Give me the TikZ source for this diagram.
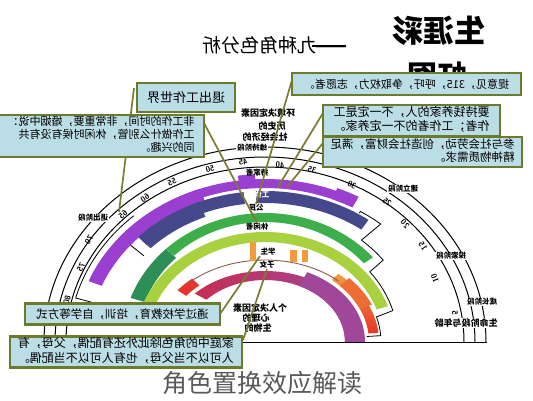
\documentclass[tikz,border=0pt]{standalone}
\usepackage{fontspec}
\usepackage{graphicx}
\newfontfamily\cjk{Noto Sans CJK SC}
\usetikzlibrary{calc}
\definecolor{boxfill}{HTML}{BBDDE6}
\definecolor{boxline}{HTML}{6B7B2C}
\definecolor{connc}{HTML}{7D7B32}
\definecolor{cP}{HTML}{9A3FD0}
\definecolor{cN}{HTML}{46488C}
\definecolor{cG}{HTML}{3DAE4A}
\definecolor{cDG}{HTML}{2E8E58}
\definecolor{cLG}{HTML}{A9D13F}
\definecolor{cO}{HTML}{F29B3D}
\definecolor{cR}{HTML}{E8352B}
\definecolor{cCh}{HTML}{A0479A}
\definecolor{cChL}{HTML}{C42E55}
\definecolor{cBr}{HTML}{8E5B4E}
\newcommand{\mir}[1]{\reflectbox{#1}}
\newcommand{\mirl}[1]{\reflectbox{\begin{tabular}{@{}l@{}}#1\end{tabular}}}
\newcommand{\band}[7]{\path[#7] (#1:#5 and #6) arc[start angle=#1,end angle=#2,x radius=#5,y radius=#6] -- (#2:#3 and #4) arc[start angle=#2,end angle=#1,x radius=#3,y radius=#4] -- cycle;}
\begin{document}
\begin{tikzpicture}[x=1pt,y=-1pt,
  boxn/.style={draw=boxline, line width=2.4pt, fill=boxfill, inner sep=0pt, text=black},
  connl/.style={draw=connc, line width=1.7pt},
  ringl/.style={black, line width=1pt},
  oline/.style={black, line width=0.8pt},
  stagel/.style={fill=white, inner sep=0.6pt, font=\cjk\fontsize{7.5}{8}\selectfont\bfseries},
  rolel/.style={inner sep=0.5pt, font=\cjk\fontsize{7.5}{8}\selectfont\bfseries},
  numl/.style={inner sep=0pt, font=\sffamily\bfseries\fontsize{8}{8}\selectfont},
  smalll/.style={inner sep=0pt, font=\cjk\fontsize{9}{10}\selectfont\bfseries}]
\useasboundingbox (0,0) rectangle (533,400);
\fill[white] (0,0) rectangle (533,400);

% ---------- rainbow ----------
\begin{scope}[shift={(265,342)},yscale=-1]
  \draw[ringl] (0:221 and 195) arc[start angle=0,end angle=180,x radius=221,y radius=195];
  \draw[ringl] (0:210 and 185) arc[start angle=0,end angle=180,x radius=210,y radius=185];
  \draw[ringl] (0:199 and 175) arc[start angle=0,end angle=180,x radius=199,y radius=175];
  % outlines
  \draw[oline] (165:176 and 150) -- (165:196 and 170) arc[start angle=165,end angle=132,x radius=196,y radius=170];
  \draw[oline] (131:177 and 152) arc[start angle=131,end angle=140,x radius=177,y radius=152] -- (140:158 and 134);
  \draw[oline] (58:178 and 152) -- (58:180 and 154) arc[start angle=58,end angle=50,x radius=180,y radius=154]
     -- (50:150 and 133) arc[start angle=50,end angle=38,x radius=150,y radius=133]
     -- (38:133 and 114) arc[start angle=38,end angle=16,x radius=133,y radius=114]
     -- (16:116 and 91) arc[start angle=16,end angle=4,x radius=116,y radius=91] -- (4:102 and 79);
  % purple
  \band{61}{158}{180}{154}{190}{163}{fill=cP}
  \band{110}{158}{176}{150}{190}{163}{fill=cP}
  \band{93}{98}{186}{159}{195}{168}{fill=cP}
  \band{61}{68}{180}{154}{193}{166}{fill=cP}
  % navy
  \band{54}{93}{164}{139}{176}{151}{fill=cN}
  \band{97}{136}{164}{139}{176}{151}{fill=cN}
  \band{112}{136}{159}{135}{176}{151}{fill=cN}
  % green
  \band{41}{134}{131}{120}{143}{129}{fill=cG}
  \band{134}{160}{128}{117}{143}{129}{fill=cDG}
  % light green
  \band{19}{163}{118}{100}{130}{110}{fill=cLG}
  % student
  \band{6}{50}{104}{81}{114}{89}{top color=cO, bottom color=cR}
  \band{24}{44}{104}{81}{117}{92}{fill=cO!55!cR}
  % child
  \band{0}{137}{80}{62}{96}{71}{left color=cChL, right color=cCh}
  \band{0}{65}{80}{62}{100}{77}{fill=cCh}
  \band{131}{142}{100}{75}{111}{84}{fill=cR}
  \draw[cBr, line width=0.9pt] (48:110 and 82) arc[start angle=48,end angle=136,x radius=110,y radius=82];
\end{scope}
\fill[cO] (250,242) rectangle (256,261);
\fill[cO] (290,250) rectangle (297,262);
\fill[cO] (302,250) rectangle (308,262);
\draw[ringl] (10,342) -- (487,342);

% numbers
\foreach \n/\x/\y/\r in {5/455/313/-80, 10/435/278/-67, 15/423/246/-55, 20/405/224/-46, 25/387/202/-38, 30/352/185/-26, 35/312/170/-14, 40/280/165/-4, 45/243/162/6, 50/210/169/16, 55/172/182/27, 60/145/198/36, 65/123/215/45, 70/89/240/57, 75/81/267/65, 80/67/300/76}
  \node[numl, rotate=\r] (n\n) at (\x,\y) {\mir{\n}};

% stage labels
\node[stagel] (s1) at (252,148) {\mir{维持阶段}};
\node[stagel] (s2) at (403,189) {\mir{建立阶段}};
\node[stagel] (s3) at (451,256) {\mir{探索阶段}};
\node[stagel] (s4) at (482,302) {\mir{成长阶段}};
\node[stagel, font=\cjk\fontsize{9}{10}\selectfont\bfseries] (s5) at (466,323) {\mir{生命阶段与年龄}};
\node[stagel] (s6) at (93,218) {\mir{退出阶段}};

% role labels
\node[rolel] (r1) at (257,173) {\mir{持家者}};
\node[rolel, text=white] (r2) at (258,195) {\mir{工作者}};
\node[rolel] (r3) at (256,208) {\mir{公民}};
\node[rolel] (r4) at (257,227) {\mir{休闲者}};
\node[rolel] (r5) at (268,252) {\mir{学生}};
\node[rolel] (r6) at (267,265) {\mir{子女}};

% determinants
\node[smalll] (e1) at (268,113) {\mir{环境决定因素}};
\node[smalll] (e2) at (272,126) {\mir{历史的}};
\node[smalll] (e3) at (265,137) {\mir{社会经济的}};
\node[smalll] (p1) at (260,308) {\mir{个人决定因素}};
\node[smalll] (p2) at (256,318) {\mir{心理的}};
\node[smalll] (p3) at (258,328) {\mir{生物的}};

% titles
\node[inner sep=0pt, font=\cjk\bfseries\fontsize{31}{31}\selectfont] (t1) at (439,31) {\mir{生涯彩}};
\node[inner sep=0pt, font=\cjk\bfseries\fontsize{30}{30}\selectfont] (t2) at (437,76) {\mir{虹图}};
\node[inner sep=0pt, font=\cjk\fontsize{19}{19}\selectfont] (st) at (275,45) {\mir{——九种角色分析}};
\draw[line width=2.2pt] ($(st.east)+(-36,1)$) coordinate (dsh1) -- ($(st.east)+(-2,1)$) coordinate (dsh2);

% box positions
\path (406.5,84) coordinate (b1c) (411.5,120.5) coordinate (b2c) (422.5,152) coordinate (b3c)
      (186,97.5) coordinate (b4c) (101,136) coordinate (b5c) (122.5,314) coordinate (b6c) (126,352) coordinate (b7c);

% connectors
\coordinate (k1s) at (134,88);
\coordinate (k1) at (119,212);
\coordinate (k2s) at (204,123);
\coordinate (k3s) at (292,80);
\coordinate (k4s) at (323,113);
\coordinate (k4) at (278,187);
\coordinate (k5s) at (323,143);
\coordinate (k5) at (287,187);
\coordinate (k6s) at (220,314);
\coordinate (k7s) at (243,340);
\draw[connl] (k1s) -- (k1);
\draw[connl] (k2s) -- (r4.north);
\draw[connl] (k3s) -- (r3.north);
\draw[connl] (k4s) -- (k4);
\draw[connl] (k5s) -- (k5);
\draw[connl] (k6s) -- (r5.south west);
\draw[connl] (k7s) -- (r6.south);

% boxes
\node[boxn, minimum width=229pt, minimum height=22pt, font=\cjk\fontsize{11}{13}\selectfont] (b1) at (b1c) {\mir{提意见，315，呼吁，争取权力，志愿者。}};
\node[boxn, minimum width=177pt, minimum height=31pt, font=\cjk\fontsize{12}{14}\selectfont] (b2) at (b2c) {\mirl{要持钱养家的人，不一定是工\\作者；工作者的不一定养家。}};
\node[boxn, minimum width=199pt, minimum height=30pt, font=\cjk\fontsize{11.5}{13.5}\selectfont] (b3) at (b3c) {\mirl{参与社会劳动，创造社会财富，满足\\精神物质需求。}};
\node[boxn, minimum width=98pt, minimum height=29pt, font=\cjk\fontsize{13}{15}\selectfont] (b4) at (b4c) {\mir{退出工作世界}};
\node[boxn, minimum width=206pt, minimum height=42pt, font=\cjk\fontsize{11}{12.5}\selectfont] (b5) at (b5c) {\mirl{非工作的时间，非常重要，婚姻中说：\\工作做什么别管，休闲时候有没有共\\同的兴趣。}};
\node[boxn, minimum width=195pt, minimum height=21pt, font=\cjk\fontsize{11.5}{13}\selectfont] (b6) at (b6c) {\mir{通过学校教育，培训，自学等方式}};
\node[boxn, minimum width=232pt, minimum height=31pt, font=\cjk\fontsize{12}{14}\selectfont] (b7) at (b7c) {\mirl{家庭中的角色除此外还有配偶，父母，有\\人可以不当父母，也有人可以不当配偶。}};

% caption
\node[inner sep=0pt, font=\cjk\fontsize{25}{25}\selectfont, text=black!65] (cap) at (262,383) {角色置换效应解读};
\end{tikzpicture}
\end{document}
